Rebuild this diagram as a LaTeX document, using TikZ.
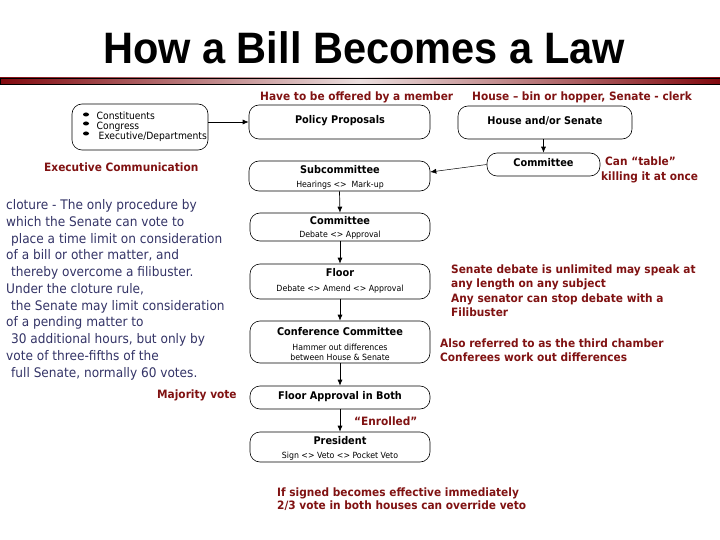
\documentclass[tikz,border=0pt]{standalone}
\usepackage{fontspec}
\usetikzlibrary{arrows.meta}
\setmainfont{DejaVu Sans}
\newfontfamily\tah[FakeStretch=0.92]{DejaVu Sans}
\newfontfamily\titlefont[FakeStretch=0.944]{Liberation Sans}
\definecolor{maroon}{RGB}{128,18,18}
\definecolor{slate}{RGB}{51,51,102}
\definecolor{barred}{RGB}{130,10,15}
\definecolor{barlight}{RGB}{235,222,222}
\tikzset{
  stepbox/.style={draw=black, line width=0.6pt, rounded corners=10pt, minimum width=180pt, inner sep=0pt},
  flow/.style={line width=0.7pt, -{Latex[length=6pt,width=5pt]}},
  note/.style={text=maroon, font=\tah\bfseries\fontsize{11.5}{14}\selectfont, inner sep=0pt, align=left},
  boxtitle/.style={font=\tah\bfseries\fontsize{10.6}{12}\selectfont, inner sep=0pt},
  boxsub/.style={font=\tah\fontsize{8.5}{10}\selectfont, inner sep=0pt, align=center},
  listitem/.style={anchor=base west, inner sep=0pt, font=\tah\fontsize{10}{11}\selectfont},
}
\begin{document}
\begin{tikzpicture}[x=1pt,y=-1pt]
\useasboundingbox (0,0) rectangle (720,540);
% title
\node[inner sep=0pt, font=\titlefont\bfseries\fontsize{44}{44}\selectfont] (title) at (364,48) {How a Bill Becomes a Law};
% bar
\shade[left color=barred, right color=barred, middle color=barlight] (0,78) rectangle (720,84.5);
\draw[line width=0.8pt] (0,78) rectangle (720,84.5);
% top notes
\node[note, anchor=west] (member) at (260,97) {Have to be offered by a member};
\node[note, anchor=west] (hopper) at (472,97) {House – bin or hopper, Senate - clerk};
% source box
\node[stepbox, minimum width=136pt, minimum height=46pt] (src) at (140,127) {};
\foreach \yy in {114.5,123.5,133.5} \fill (86,\yy) ellipse (3pt and 2pt);
\node[listitem] (c1) at (96.5,119.3) {Constituents};
\node[listitem] (c2) at (96.5,129.2) {Congress};
\node[listitem] (c3) at (98.3,139.3) {Executive/Departments};
% main column
\node[stepbox, minimum width=181pt, minimum height=34pt] (pp) at (339.5,122) {};
\node[boxtitle] (ppt) at (340,121) {Policy Proposals};
\node[stepbox, minimum width=174pt, minimum height=33pt] (hs) at (545,122.5) {};
\node[boxtitle] (hst) at (545,121) {House and/or Senate};
\node[stepbox, minimum width=113pt, minimum height=23pt] (com1) at (543.5,164.5) {};
\node[boxtitle] (com1t) at (543.5,163) {Committee};
\node[stepbox, minimum width=181pt, minimum height=30pt] (sub) at (339.5,176) {};
\node[boxtitle] (subt) at (340,170) {Subcommittee};
\node[boxsub] (subs) at (340,185.5) {Hearings <> \ Mark-up};
\node[stepbox, minimum width=180pt, minimum height=28pt] (com2) at (340,227) {};
\node[boxtitle] (com2t) at (340,221) {Committee};
\node[boxsub] (com2s) at (340,235) {Debate <> Approval};
\node[stepbox, minimum width=180pt, minimum height=35pt] (floor) at (340,281.5) {};
\node[boxtitle] (floort) at (340,272.5) {Floor};
\node[boxsub] (floors) at (340,289) {Debate <> Amend <> Approval};
\node[stepbox, minimum width=180pt, minimum height=42pt] (conf) at (340,342) {};
\node[boxtitle] (conft) at (340,331.5) {Conference Committee};
\node[boxsub, font=\tah\fontsize{8.5}{10}\selectfont] (confs) at (340,352) {Hammer out differences\\between House \& Senate};
\node[stepbox, minimum width=180pt, minimum height=23pt] (fab) at (340,397.5) {};
\node[boxtitle] (fabt) at (340,397) {Floor Approval in Both};
\node[stepbox, minimum width=180pt, minimum height=30pt] (pres) at (340,447) {};
\node[boxtitle] (prest) at (340,441) {President};
\node[boxsub] (press) at (340,456) {Sign <> Veto <> Pocket Veto};
% connectors
\draw[flow] (src.east |- pp.west) -- (pp.west);
\draw[flow] (hs.south -| com1t.north) -- (com1.north -| com1t.north);
\draw[flow, line width=0.5pt] (com1.west) -- ([yshift=4pt]sub.east);
\draw[flow] (sub.south) -- (com2.north);
\draw[flow] (com2.south) -- (floor.north);
\draw[flow] (floor.south) -- (conf.north);
\draw[flow] (conf.south) -- (fab.north);
\draw[flow] (fab.south) -- (pres.north);
% side notes
\node[note, anchor=west, font=\tah\bfseries\fontsize{11.5}{14.5}\selectfont] (table) at (601,170) {\hspace{4pt}Can “table”\\killing it at once};
\node[note, anchor=west] (execc) at (44,167) {Executive Communication};
\node[note, anchor=west] (enr) at (354,421) {“Enrolled”};
\node[note, anchor=west] (maj) at (157,395) {Majority vote};
\node[note, anchor=north west, font=\tah\bfseries\fontsize{11.5}{14.3}\selectfont] (sen) at (451,264.5) {Senate debate is unlimited may speak at\\any length on any subject\\Any senator can stop debate with a\\Filibuster};
\node[note, anchor=north west, font=\tah\bfseries\fontsize{11.5}{14.3}\selectfont] (third) at (440,338.5) {Also referred to as the third chamber\\Conferees work out differences};
\node[note, anchor=north west, font=\tah\bfseries\fontsize{11.5}{13.5}\selectfont] (sign) at (277,487.5) {If signed becomes effective immediately\\2/3 vote in both houses can override veto};
% cloture
\node[anchor=north west, inner sep=0pt, align=left, text=slate, font=\tah\fontsize{13.2}{16.75}\selectfont] (clot) at (6,199.5) {cloture - The only procedure by\\which the Senate can vote to\\\hspace{5pt}place a time limit on consideration\\of a bill or other matter, and\\\hspace{5pt}thereby overcome a filibuster.\\Under the cloture rule,\\\hspace{5pt}the Senate may limit consideration\\of a pending matter to\\\hspace{5pt}30 additional hours, but only by\\vote of three-fifths of the\\\hspace{5pt}full Senate, normally 60 votes.};
\end{tikzpicture}
\end{document}
